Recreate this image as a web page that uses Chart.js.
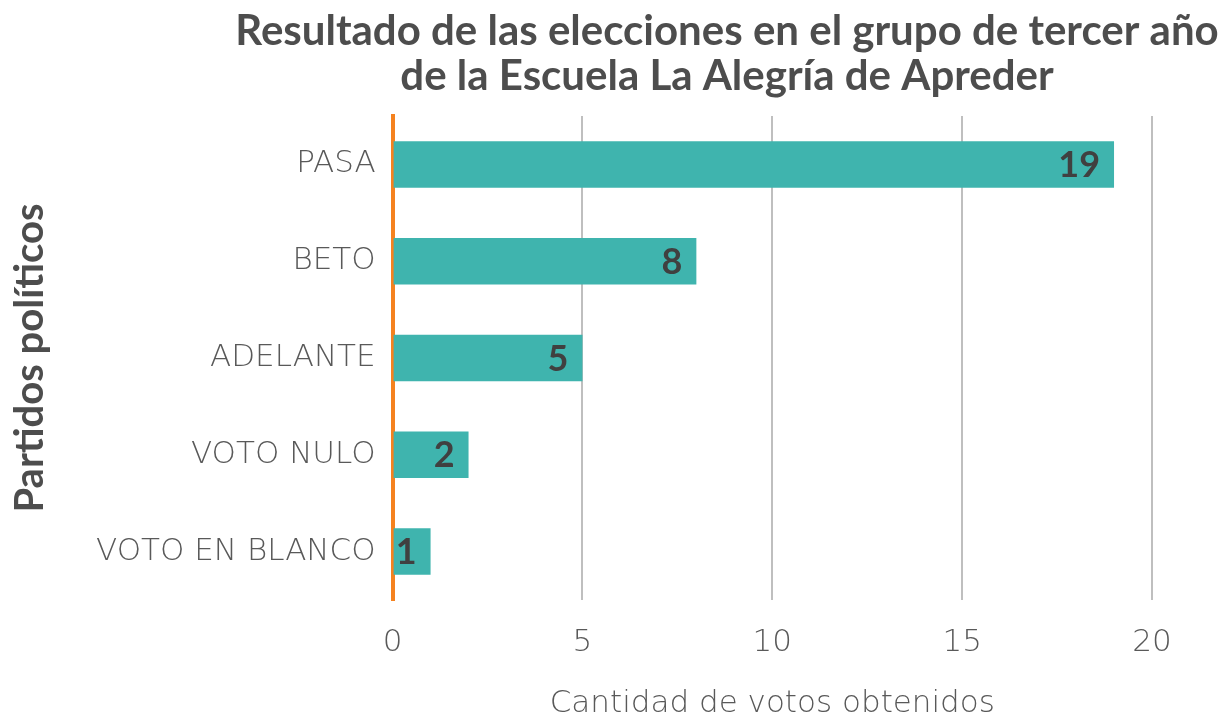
<!DOCTYPE html>
<html>
<head>
<meta charset="utf-8">
<script src="https://cdn.jsdelivr.net/npm/chart.js@4.4.0/dist/chart.umd.min.js"></script>
<style>
  body { margin: 0; background: #fff; }
</style>
</head>
<body>
<canvas id="barChart" width="1226" height="719"></canvas>
<script>
const partyLabels = ['PASA', 'BETO', 'ADELANTE', 'VOTO NULO', 'VOTO EN BLANCO'];
const voteCounts = [19, 8, 5, 2, 1];
const titleLines = ['Resultado de las elecciones en el grupo de tercer año', 'de la Escuela La Alegría de Apreder'];

// title is drawn by hand so it can sit off-centre like the original
const titlePlugin = {
  id: 'offsetTitle',
  afterDraw(chart) {
    const ctx = chart.ctx;
    ctx.save();
    ctx.font = 'bold 42px Lato';
    ctx.fillStyle = '#4d4d4d';
    ctx.textAlign = 'center';
    ctx.textBaseline = 'middle';
    ctx.fillText(titleLines[0], 727, 31);
    ctx.fillText(titleLines[1], 727, 76);
    ctx.restore();
  }
};

// value labels inside the end of each bar
const valueLabels = {
  id: 'valueLabels',
  afterDatasetsDraw(chart) {
    const ctx = chart.ctx;
    const meta = chart.getDatasetMeta(0);
    ctx.save();
    ctx.font = 'bold 36px Lato';
    ctx.fillStyle = '#404040';
    ctx.textAlign = 'right';
    ctx.textBaseline = 'middle';
    meta.data.forEach((bar, i) => {
      ctx.fillText(voteCounts[i], bar.x - 14, bar.y + 1);
    });
    ctx.restore();
  }
};

const barChart = new Chart(
  document.getElementById('barChart'),
  {
    type: 'bar',
    data: {
      labels: partyLabels,
      datasets: [
        {
          data: voteCounts,
          backgroundColor: '#3fb4ae',
          barPercentage: 1,
          categoryPercentage: 0.48
        }
      ]
    },
    options: {
      indexAxis: 'y',
      responsive: false,
      animation: false,
      layout: { padding: { top: 116, right: 74, left: 10, bottom: 0 } },
      plugins: {
        legend: { display: false },
        tooltip: { enabled: false },
        title: { display: false }
      },
      scales: {
        x: {
          min: 0,
          max: 20,
          ticks: { stepSize: 5, color: '#595959', padding: 27, font: { family: 'DejaVu Sans', size: 31, weight: 200, lineHeight: 1 } },
          grid: { color: '#bfbfbf', lineWidth: 2, drawTicks: false },
          border: { display: false },
          title: {
            display: true,
            text: 'Cantidad de votos obtenidos',
            color: '#595959',
            padding: { top: 3, bottom: 0 },
            font: { family: 'DejaVu Sans', size: 31, weight: 200, lineHeight: 1 }
          }
        },
        y: {
          ticks: { color: '#595959', padding: 17, font: { family: 'DejaVu Sans', size: 31, weight: 200 } },
          grid: { display: false, drawTicks: false },
          border: { color: '#f5821f', width: 4 },
          title: {
            display: true,
            text: 'Partidos políticos',
            color: '#4d4d4d',
            padding: { top: 0, bottom: 29 },
            font: { family: 'Lato', size: 40, weight: 'bold', lineHeight: 1 }
          }
        }
      }
    },
    plugins: [titlePlugin, valueLabels]
  }
);
</script>
</body>
</html>
